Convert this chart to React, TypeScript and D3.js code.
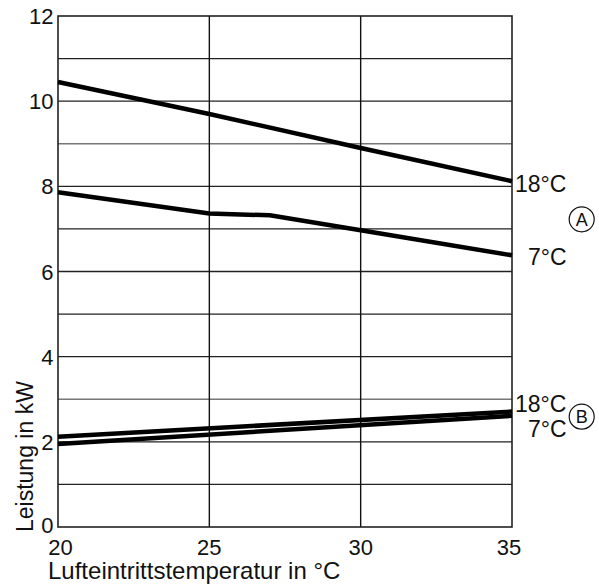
import React from 'react';
import * as d3 from 'd3';

// Leistung (kW) über Lufteintrittstemperatur (°C)
const xTicks = [20, 25, 30, 35];
const yTicks = [0, 2, 4, 6, 8, 10, 12];
const yGrid = [1, 2, 3, 4, 5, 6, 7, 8, 9, 10, 11];

const tempA18 = [20, 25, 30, 35];
const valA18 = [10.45, 9.7, 8.9, 8.12];
const tempA7 = [20, 25, 27, 30, 35];
const valA7 = [7.86, 7.36, 7.32, 6.97, 6.38];
const tempB18 = [20, 35];
const valB18 = [2.12, 2.71];
const tempB7 = [20, 35];
const valB7 = [1.95, 2.61];

const font = '"Liberation Sans", Arial, sans-serif';

export default function App() {
  const W = 599, H = 585;
  const left = 58, right = 512, top = 16, bottom = 527;

  const x = d3.scaleLinear().domain([20, 35]).range([left, right]);
  const y = d3.scaleLinear().domain([0, 12]).range([bottom, top]);

  const line = d3.line<[number, number]>()
    .x(d => x(d[0]))
    .y(d => y(d[1]));

  const series = [
    { t: tempA18, v: valA18 },
    { t: tempA7, v: valA7 },
    { t: tempB18, v: valB18 },
    { t: tempB7, v: valB7 },
  ];

  return (
    <svg width={W} height={H} style={{ position: 'absolute', left: 0, top: 0, background: '#fff' }}
      fontFamily={font}>
      {/* grid */}
      {yGrid.map(g => (
        <line key={'h' + g} x1={left} x2={right} y1={y(g)} y2={y(g)}
          stroke={g === 9 || g === 3 ? '#777' : '#222'} strokeWidth={1.3} />
      ))}
      {xTicks.slice(1, -1).map(t => (
        <line key={'v' + t} x1={x(t)} x2={x(t)} y1={top} y2={bottom} stroke="#111" strokeWidth={1.4} />
      ))}
      {/* frame */}
      <rect x={left} y={top} width={right - left} height={bottom - top} fill="none" stroke="#222" strokeWidth={1.6} />

      {/* curves */}
      {series.map((s, i) => (
        <path key={i} d={line(s.t.map((t, j) => [t, s.v[j]] as [number, number])) || ''}
          fill="none" stroke="#000" strokeWidth={4.5} />
      ))}

      {/* y ticks */}
      {yTicks.map(t => (
        <text key={'yt' + t} x={53.5} y={y(t) + (t === 0 ? 6 : 8)} textAnchor="end" fontSize={22} fill="#111">{t}</text>
      ))}
      {/* x ticks */}
      {xTicks.map(t => (
        <text key={'xt' + t} x={x(t) + (t === 20 ? 2.5 : t === 35 ? -3 : 0)} y={555} textAnchor="middle" fontSize={22} fill="#111">{t}</text>
      ))}

      <text x={48} y={579} fontSize={24} fill="#111">Lufteintrittstemperatur in °C</text>
      <text transform={`translate(33, 532) rotate(-90)`} fontSize={23} fill="#111">Leistung in kW</text>

      {/* curve labels */}
      <text x={515} y={191.5} fontSize={23} fill="#111">18°C</text>
      <text x={528} y={265} fontSize={23} fill="#111">7°C</text>
      <text x={515} y={411.5} fontSize={23} fill="#111">18°C</text>
      <text x={528} y={436.5} fontSize={23} fill="#111">7°C</text>

      <circle cx={581.7} cy={219.3} r={12.5} fill="none" stroke="#111" strokeWidth={1.2} />
      <text x={581.7} y={225.8} textAnchor="middle" fontSize={18} fill="#111">A</text>
      <circle cx={581.7} cy={416.7} r={12.5} fill="none" stroke="#111" strokeWidth={1.2} />
      <text x={581.7} y={423.2} textAnchor="middle" fontSize={18} fill="#111">B</text>
    </svg>
  );
}
